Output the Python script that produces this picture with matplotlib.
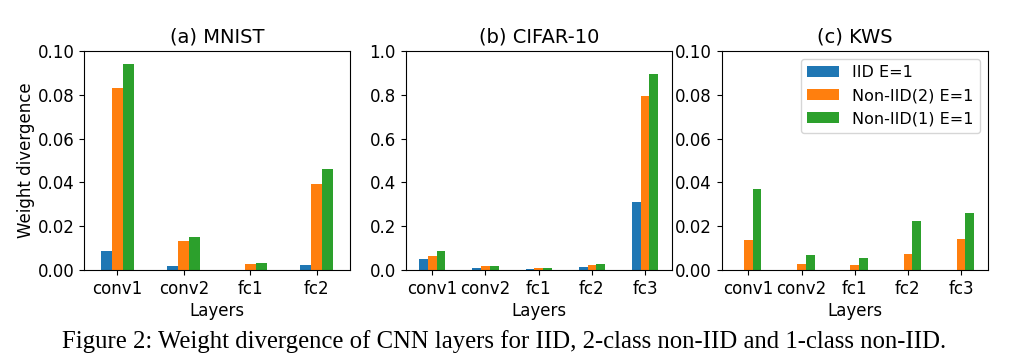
import numpy as np
import matplotlib
matplotlib.use("Agg")
import matplotlib.pyplot as plt
from matplotlib.ticker import FormatStrFormatter

# layer names per dataset
mnist_layers = ["conv1", "conv2", "fc1", "fc2"]
cifar_layers = ["conv1", "conv2", "fc1", "fc2", "fc3"]
kws_layers = ["conv1", "conv2", "fc1", "fc2", "fc3"]

series_names = ["IID E=1", "Non-IID(2) E=1", "Non-IID(1) E=1"]

# weight divergence values
mnist_iid = [0.0088, 0.0017, 0.0002, 0.0023]
mnist_non2 = [0.0831, 0.0134, 0.0027, 0.0394]
mnist_non1 = [0.0939, 0.0149, 0.0032, 0.0463]

cifar_iid = [0.049, 0.011, 0.006, 0.014, 0.310]
cifar_non2 = [0.064, 0.018, 0.009, 0.023, 0.793]
cifar_non1 = [0.085, 0.018, 0.011, 0.029, 0.896]

kws_iid = [0.0001, 0.0001, 0.0001, 0.0001, 0.0001]
kws_non2 = [0.0139, 0.0027, 0.0021, 0.0075, 0.0140]
kws_non1 = [0.0368, 0.0067, 0.0053, 0.0222, 0.0259]

colors = ["tab:blue", "tab:orange", "tab:green"]
width = 0.165

plt.rcParams["font.size"] = 12

W, H = 1014, 362
fig = plt.figure(figsize=(W / 100, H / 100), dpi=100)

panels = [
    ("(a) MNIST", mnist_layers, [mnist_iid, mnist_non2, mnist_non1], 0.10, 84),
    ("(b) CIFAR-10", cifar_layers, [cifar_iid, cifar_non2, cifar_non1], 1.0, 405.7),
    ("(c) KWS", kws_layers, [kws_iid, kws_non2, kws_non1], 0.10, 721.7),
]
ax_w = 266
ax_bottom, ax_top = 270, 51

for i, (title, layers, vals, ymax, left_px) in enumerate(panels):
    ax = fig.add_axes([left_px / W, (H - ax_bottom) / H, ax_w / W, (ax_bottom - ax_top) / H])
    x = np.arange(len(layers))
    for k, (v, c, name) in enumerate(zip(vals, colors, series_names)):
        ax.bar(x + (k - 1) * width, v, width, color=c, label=name)
    ax.set_xticks(x)
    ax.set_xticklabels(layers)
    ax.set_xlim(-0.5, len(layers) - 0.5)
    ax.set_ylim(0, ymax)
    if ymax == 1.0:
        ax.set_yticks(np.arange(0, 1.01, 0.2))
        ax.yaxis.set_major_formatter(FormatStrFormatter("%.1f"))
    else:
        ax.set_yticks(np.arange(0, 0.101, 0.02))
        ax.yaxis.set_major_formatter(FormatStrFormatter("%.2f"))
    ax.set_title(title, fontsize=14, pad=6)
    ax.set_xlabel("Layers", labelpad=3)
    if i == 0:
        ax.set_ylabel("Weight divergence", labelpad=2)
    if i == 2:
        ax.legend(loc="upper right", fontsize=11.5, labelspacing=0.5)

fig.text(0.497, 0.056,
         "Figure 2: Weight divergence of CNN layers for IID, 2-class non-IID and 1-class non-IID.",
         ha="center", va="center", family="Liberation Serif", fontsize=17.8)

fig.savefig("out.png", dpi=100)
